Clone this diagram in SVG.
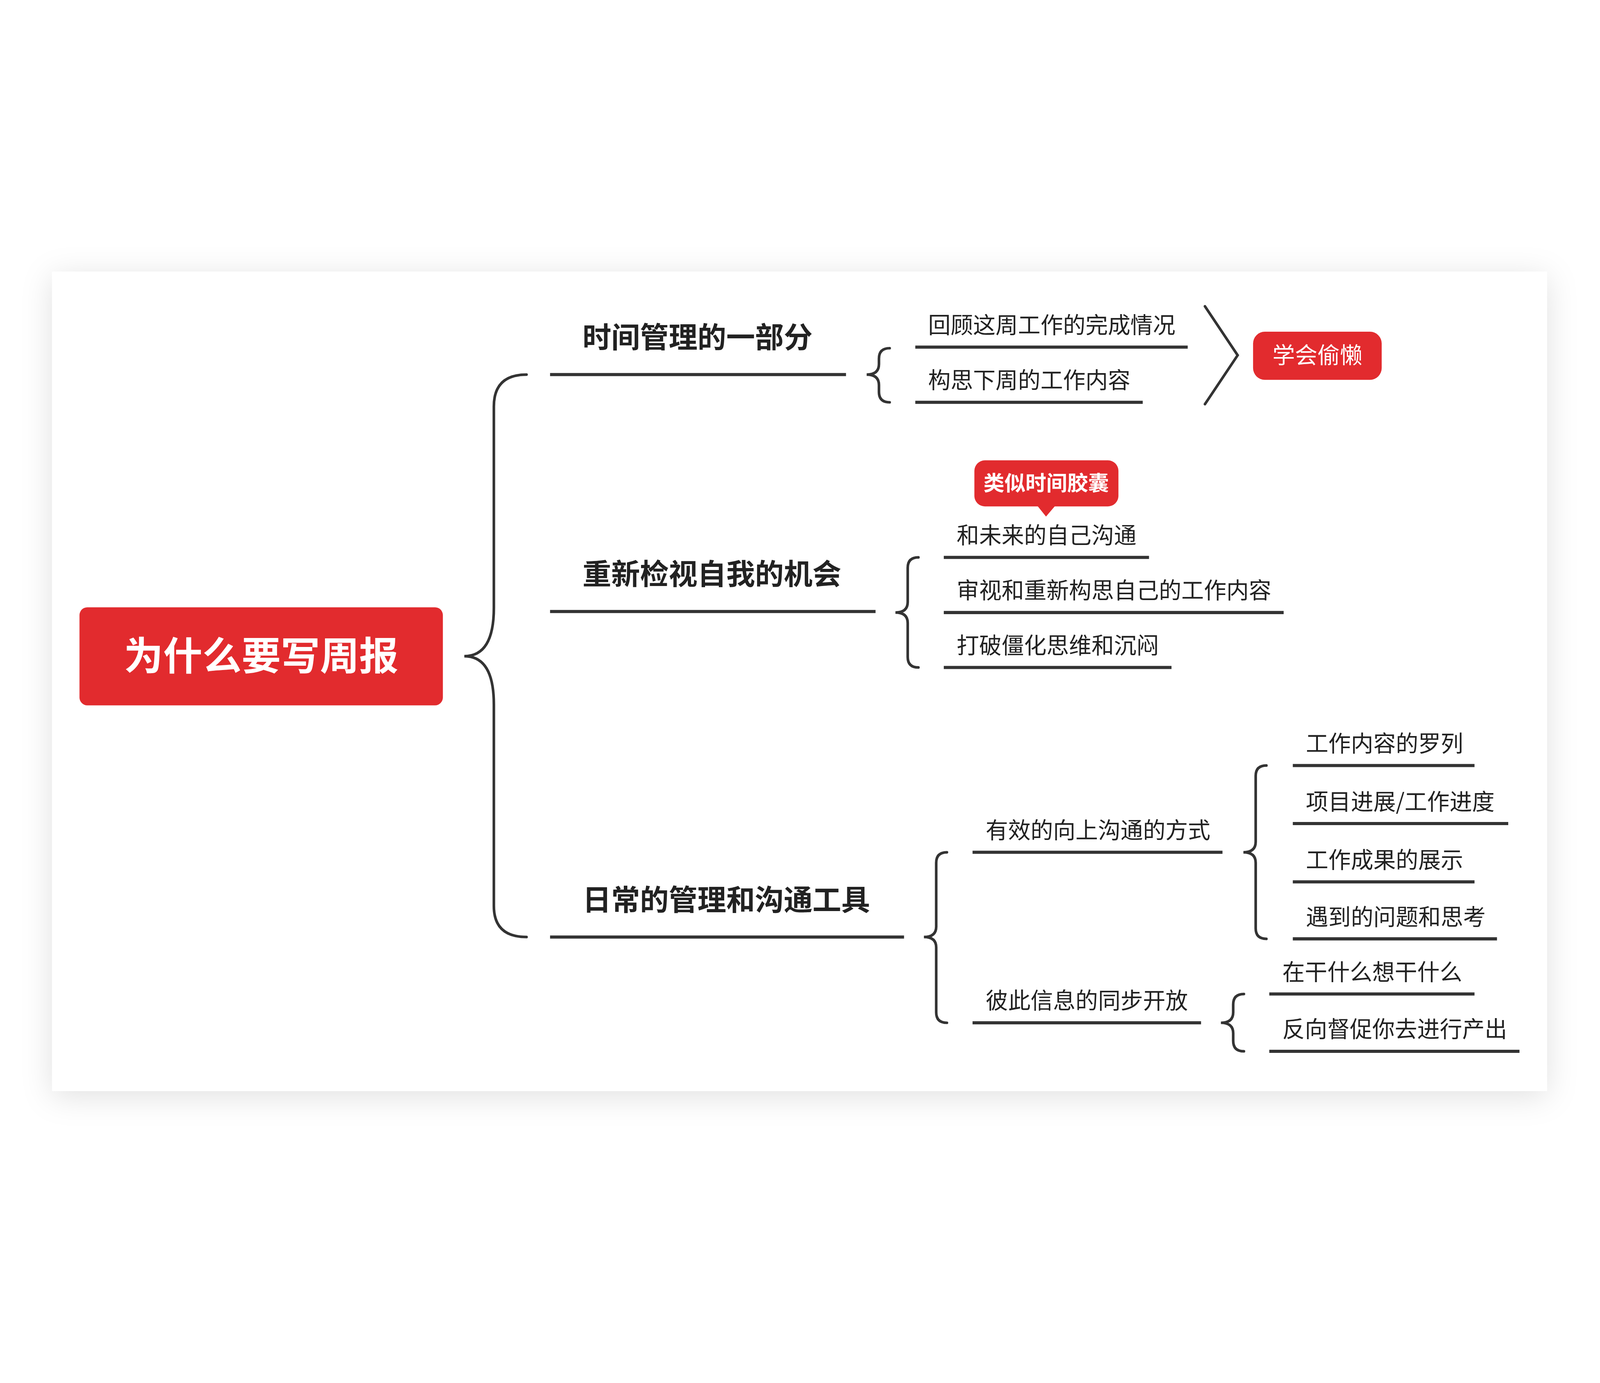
<svg xmlns="http://www.w3.org/2000/svg" width="6120" height="3540" viewBox="0 0 6120 3540" style="width:100vw;height:100vh;display:block" preserveAspectRatio="xMidYMid meet">
<defs>
<filter id="sh" x="-10%" y="-10%" width="120%" height="120%"><feDropShadow dx="0" dy="20" stdDeviation="60" flood-color="#000" flood-opacity="0.12"/></filter>
<style>
.t{font-family:"Noto Sans CJK SC","Liberation Sans",sans-serif;fill:#222}
.l1{font-size:110px;font-weight:700}
.it{font-size:86px}
.w{fill:#fff}
.ln{stroke:#333;stroke-width:12;fill:none}
.br{stroke:#333;stroke-width:10;fill:none;stroke-linecap:round}
.red{fill:#E22B2E}
</style>
</defs>
<rect width="6120" height="3540" fill="#fff"/>
<rect x="199" y="164" width="5718" height="3134" fill="#fff" filter="url(#sh)"/>
<g id="connectors">
<path class="br" d="M2014 558 Q1889 558 1889 680 L1889 1450 Q1889 1635 1776 1635 Q1889 1635 1889 1820 L1889 2590 Q1889 2709 2014 2709"/>
<path class="br" d="M3403 457 Q3362 457 3362 497 L3362 518 Q3362 558 3315 558 Q3362 558 3362 598 L3362 624 Q3362 664 3403 664"/>
<path class="br" d="M4609 297 L4734 484 L4609 671"/>
<path class="br" d="M3513 1257 Q3472 1257 3472 1297 L3472 1428 Q3472 1468 3425 1468 Q3472 1468 3472 1508 L3472 1638 Q3472 1678 3513 1678"/>
<path class="br" d="M3622 2385 Q3581 2385 3581 2425 L3581 2669 Q3581 2709 3534 2709 Q3581 2709 3581 2749 L3581 2997 Q3581 3037 3622 3037"/>
<path class="br" d="M4844 2053 Q4803 2053 4803 2093 L4803 2345 Q4803 2385 4756 2385 Q4803 2385 4803 2425 L4803 2676 Q4803 2716 4844 2716"/>
<path class="br" d="M4758 2927 Q4717 2927 4717 2967 L4717 2997 Q4717 3037 4670 3037 Q4717 3037 4717 3077 L4717 3106 Q4717 3146 4758 3146"/>
</g>
<g id="root"><rect class="red" x="304" y="1448" width="1390" height="375" rx="30"/><text class="t w" x="999" y="1688" font-size="150" font-weight="700" text-anchor="middle">为什么要写周报</text></g>
<g id="n1"><line class="ln" x1="2104" y1="558" x2="3236" y2="558"/><text class="t l1" x="2228" y="455">时间管理的一部分</text></g>
<g id="n2"><line class="ln" x1="2104" y1="1464" x2="3349" y2="1464"/><text class="t l1" x="2228" y="1361">重新检视自我的机会</text></g>
<g id="n3"><line class="ln" x1="2104" y1="2709" x2="3458" y2="2709"/><text class="t l1" x="2228" y="2606">日常的管理和沟通工具</text></g>
<g id="n11"><line class="ln" x1="3501" y1="453" x2="4543" y2="453"/><text class="t it" x="3550" y="400">回顾这周工作的完成情况</text></g>
<g id="n12"><line class="ln" x1="3501" y1="664" x2="4371" y2="664"/><text class="t it" x="3550" y="611">构思下周的工作内容</text></g>
<g id="lazy"><rect class="red" x="4793" y="394" width="492" height="184" rx="45"/><text class="t w" x="5039" y="515" font-size="86" text-anchor="middle">学会偷懒</text></g>
<g id="n21"><line class="ln" x1="3610" y1="1257" x2="4395" y2="1257"/><text class="t it" x="3659" y="1204">和未来的自己沟通</text></g>
<g id="n22"><line class="ln" x1="3610" y1="1468" x2="4910" y2="1468"/><text class="t it" x="3659" y="1415">审视和重新构思自己的工作内容</text></g>
<g id="n23"><line class="ln" x1="3610" y1="1678" x2="4481" y2="1678"/><text class="t it" x="3659" y="1625">打破僵化思维和沉闷</text></g>
<g id="capsule"><rect class="red" x="3727" y="886" width="551" height="176" rx="40"/><path class="red" d="M3968 1060 L4001 1101 L4036 1060 Z"/><text class="t w" x="4002" y="1002" font-size="80" font-weight="700" text-anchor="middle">类似时间胶囊</text></g>
<g id="n31"><line class="ln" x1="3720" y1="2385" x2="4676" y2="2385"/><text class="t it" x="3770" y="2332">有效的向上沟通的方式</text></g>
<g id="n32"><line class="ln" x1="3720" y1="3037" x2="4594" y2="3037"/><text class="t it" x="3770" y="2984">彼此信息的同步开放</text></g>
<g id="n311"><line class="ln" x1="4945" y1="2053" x2="5640" y2="2053"/><text class="t it" x="4995" y="2000">工作内容的罗列</text></g>
<g id="n312"><line class="ln" x1="4945" y1="2275" x2="5769" y2="2275"/><text class="t it" x="4995" y="2222">项目进展/工作进度</text></g>
<g id="n313"><line class="ln" x1="4945" y1="2498" x2="5640" y2="2498"/><text class="t it" x="4995" y="2445">工作成果的展示</text></g>
<g id="n314"><line class="ln" x1="4945" y1="2716" x2="5726" y2="2716"/><text class="t it" x="4995" y="2663">遇到的问题和思考</text></g>
<g id="n321"><line class="ln" x1="4855" y1="2927" x2="5640" y2="2927"/><text class="t it" x="4905" y="2874">在干什么想干什么</text></g>
<g id="n322"><line class="ln" x1="4855" y1="3146" x2="5812" y2="3146"/><text class="t it" x="4905" y="3093">反向督促你去进行产出</text></g>
</svg>
